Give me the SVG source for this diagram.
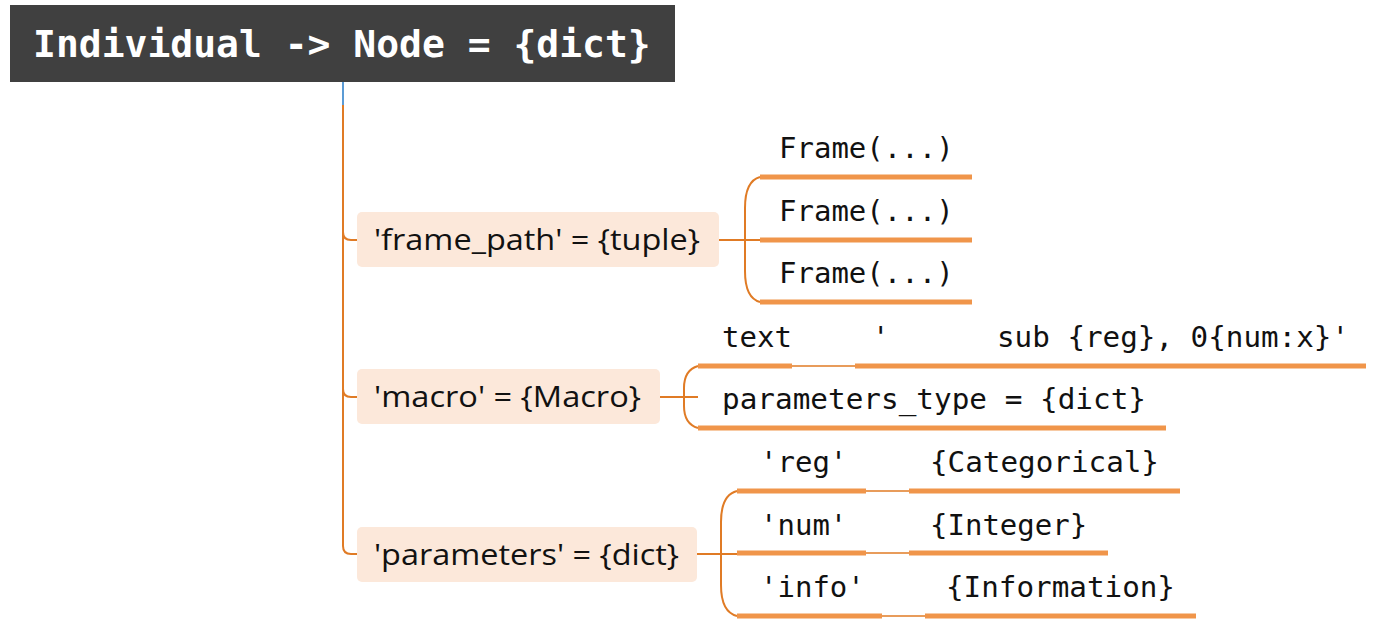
<svg xmlns="http://www.w3.org/2000/svg" width="1382" height="628" viewBox="0 0 1382 628">
<style>
.mono{font-family:"DejaVu Sans Mono","Liberation Mono",monospace;font-size:29px;fill:#111}
.lbl{font-family:"Open Sans","Noto Sans",sans-serif;font-size:30px;fill:#111}
.box{fill:#fce8da}
.conn{fill:none;stroke:#e07b25;stroke-width:2}
.ul{fill:none;stroke:#f0954a;stroke-width:5}
.thin{fill:none;stroke:#e07b25;stroke-width:1.5}
</style>
<rect width="1382" height="628" fill="#ffffff"/>
<g id="connectors">
<path d="M343 82 V105" fill="none" stroke="#5b9bd5" stroke-width="2"/>
<path class="conn" d="M343 105 V546 Q343 554 351 554 H357"/>
<path class="conn" d="M343 232 Q343 240 351 240 H357"/>
<path class="conn" d="M343 389 Q343 397 351 397 H357"/>
<path class="conn" d="M719 240 H760"/>
<path class="conn" d="M760 177 Q745 181 745 208 V271 Q745 298 760 302"/>
<path class="conn" d="M660 397 H698"/>
<path class="conn" d="M698 366 Q684 370 684 388 V406 Q684 424 698 428"/>
<path class="conn" d="M697 554 H737"/>
<path class="conn" d="M737 491 Q721 495 721 522 V585 Q721 612 737 616"/>
</g>
<g id="root">
<rect x="10" y="5" width="665" height="77" fill="#404040"/>
<text x="33" y="57" font-family="'DejaVu Sans Mono','Liberation Mono',monospace" font-size="38" font-weight="bold" fill="#ffffff">Individual -&gt; Node = {dict}</text>
</g>
<g id="frame_path">
<rect class="box" x="357" y="212" width="362" height="55" rx="5"/>
<text class="lbl" x="374" y="250" textLength="326" lengthAdjust="spacingAndGlyphs">'frame_path' = {tuple}</text>
</g>
<g id="frame1">
<text class="mono" x="779" y="158">Frame(...)</text>
<path class="ul" d="M760 177 H972"/>
</g>
<g id="frame2">
<text class="mono" x="779" y="221">Frame(...)</text>
<path class="ul" d="M760 240 H972"/>
</g>
<g id="frame3">
<text class="mono" x="779" y="283">Frame(...)</text>
<path class="ul" d="M760 302 H972"/>
</g>
<g id="macro">
<rect class="box" x="357" y="369" width="303" height="55" rx="5"/>
<text class="lbl" x="374" y="407" textLength="267" lengthAdjust="spacingAndGlyphs">'macro' = {Macro}</text>
</g>
<g id="macro_text">
<text class="mono" x="722" y="347">text</text>
<path class="ul" d="M698 366 H792"/>
<path class="thin" d="M792 366 H855"/>
<text class="mono" x="872" y="347">'</text>
<text class="mono" x="997" y="347" textLength="352" lengthAdjust="spacingAndGlyphs">sub {reg}, 0{num:x}'</text>
<path class="ul" d="M855 366 H1366"/>
</g>
<g id="macro_params">
<text class="mono" x="722" y="409" textLength="424" lengthAdjust="spacingAndGlyphs">parameters_type = {dict}</text>
<path class="ul" d="M698 428 H1166"/>
</g>
<g id="parameters">
<rect class="box" x="357" y="527" width="340" height="55" rx="5"/>
<text class="lbl" x="374" y="565" textLength="305" lengthAdjust="spacingAndGlyphs">'parameters' = {dict}</text>
</g>
<g id="param_reg">
<text class="mono" x="760" y="472">'reg'</text>
<path class="ul" d="M737 491 H866"/>
<path class="thin" d="M866 491 H909"/>
<text class="mono" x="930" y="472" textLength="229" lengthAdjust="spacingAndGlyphs">{Categorical}</text>
<path class="ul" d="M909 491 H1180"/>
</g>
<g id="param_num">
<text class="mono" x="760" y="535">'num'</text>
<path class="ul" d="M737 553 H866"/>
<path class="thin" d="M866 553 H909"/>
<text class="mono" x="930" y="535">{Integer}</text>
<path class="ul" d="M909 553 H1108"/>
</g>
<g id="param_info">
<text class="mono" x="760" y="597">'info'</text>
<path class="ul" d="M737 616 H882"/>
<path class="thin" d="M882 616 H925"/>
<text class="mono" x="946" y="597" textLength="229" lengthAdjust="spacingAndGlyphs">{Information}</text>
<path class="ul" d="M925 616 H1196"/>
</g>
</svg>
